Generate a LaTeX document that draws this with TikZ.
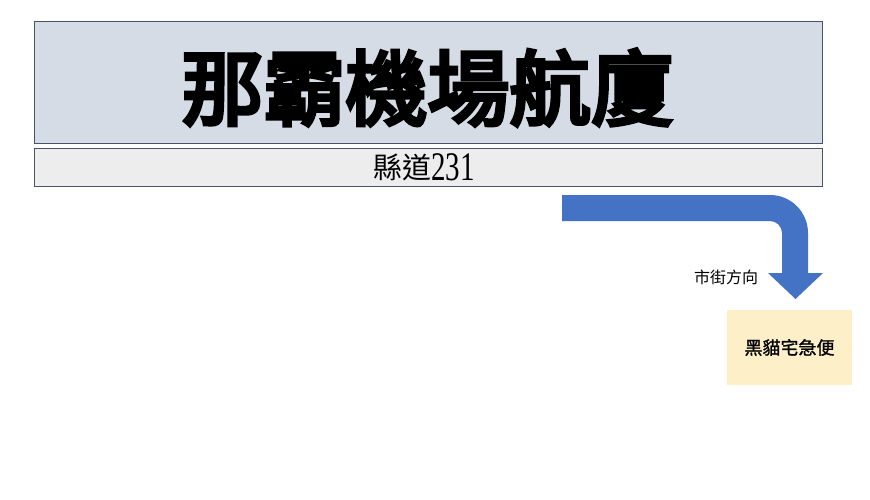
\documentclass[tikz,border=0pt]{standalone}
\usepackage{fontspec}
\newfontfamily\cjk{Noto Sans CJK TC}
\newfontfamily\cjkheavy{Noto Sans CJK TC}[FakeBold=5]
\newfontfamily\cjkbold{Noto Sans CJK TC}[FakeBold=1.2]
\newfontfamily\numserif{Liberation Serif}
\definecolor{titlefill}{HTML}{D6DCE5}
\definecolor{roadfill}{HTML}{EDEDED}
\definecolor{boxline}{HTML}{44546A}
\definecolor{arrowblue}{HTML}{4472C4}
\definecolor{catfill}{HTML}{FDEFC7}
\tikzset{
  titlebox/.style={draw=boxline, line width=0.9pt, fill=titlefill, inner sep=0pt},
  roadbox/.style={draw=boxline, line width=0.9pt, fill=roadfill, inner sep=0pt},
  catbox/.style={fill=catfill, inner sep=0pt},
  plaintext/.style={inner sep=0pt},
  bigarrow/.style={fill=arrowblue, draw=none},
}
\begin{document}
\begin{tikzpicture}[x=1pt,y=-1pt]
\useasboundingbox[fill=white] (0,0) rectangle (870,500);
\node[titlebox, minimum width=788pt, minimum height=122pt] (title) at (428,82.5) {};
\node[plaintext] (titletext) at (427.5,87.5)
  {\cjkheavy\fontsize{82pt}{82pt}\selectfont 那霸機場航廈};
\node[roadbox, minimum width=788pt, minimum height=38pt] (road) at (428,167.5) {};
\node[plaintext] (roadtext) at (424,167.5)
  {\cjk\fontsize{29pt}{29pt}\selectfont 縣道\numserif\raisebox{-2.5pt}{\scalebox{1}[1.4]{231}}};
\path[bigarrow] (562,195) -- (770,195)
  .. controls (791,195) and (808,212) .. (808,233)
  -- (808,273) -- (823,273) -- (795.5,299) -- (768,273) -- (782,273) -- (782,233)
  .. controls (782,226.4) and (776.6,221) .. (770,221)
  -- (562,221) -- cycle;
\node[plaintext] (dir) at (726,277) {\cjk\fontsize{16pt}{16pt}\selectfont 市街方向};
\node[catbox, minimum width=125pt, minimum height=75pt] (cat) at (789.5,347.5)
  {\cjkbold\fontsize{18pt}{18pt}\selectfont 黑貓宅急便};
\end{tikzpicture}
\end{document}
